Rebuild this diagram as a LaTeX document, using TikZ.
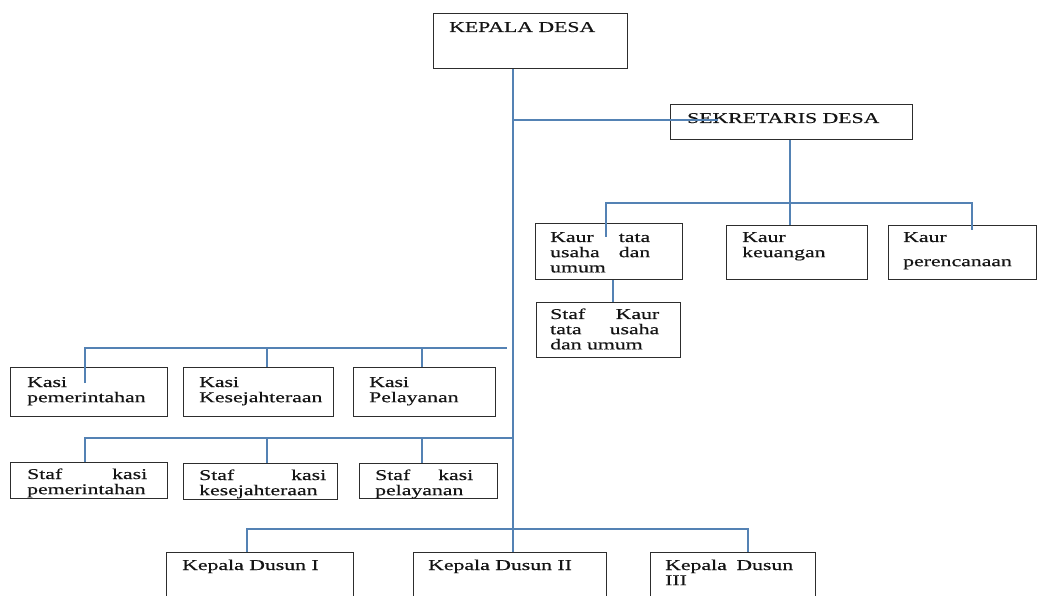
\documentclass[tikz,border=0pt]{standalone}
\usepackage{fontspec}
\setmainfont{Liberation Serif}[FakeStretch=1.45,FakeBold=0.4]
\definecolor{lnblue}{RGB}{84,130,180}
\definecolor{boxgray}{RGB}{45,45,45}
\newcommand\jl[2]{\makebox[#1][s]{#2}}
\tikzset{
  box/.style={draw=boxgray, line width=1.3pt, rectangle, inner sep=0pt, anchor=north west},
  conn/.style={draw=lnblue, line width=1.2pt},
  txt/.style={anchor=base west, inner sep=0pt, font=\fontsize{15}{15.2}\selectfont, text=black!92}
}
\begin{document}
\begin{tikzpicture}[x=1pt,y=-1pt]
\useasboundingbox[fill=white] (0,0) rectangle (1037,596);
% boxes
\node[box, minimum width=194pt, minimum height=55pt] (kd) at (433,13) {};
\node[box, minimum width=242pt, minimum height=35pt] (sek) at (670,104) {};
\node[box, minimum width=147pt, minimum height=56pt] (tata) at (535,223) {};
\node[box, minimum width=144pt, minimum height=55pt] (stafkaur) at (536,302) {};
\node[box, minimum width=141pt, minimum height=54pt] (keu) at (726,225) {};
\node[box, minimum width=148pt, minimum height=54pt] (ren) at (888,225) {};
\node[box, minimum width=157pt, minimum height=49pt] (kpem) at (10,367) {};
\node[box, minimum width=150pt, minimum height=49pt] (kkes) at (183,367) {};
\node[box, minimum width=142pt, minimum height=49pt] (kpel) at (353,367) {};
\node[box, minimum width=157pt, minimum height=36pt] (spem) at (10,462) {};
\node[box, minimum width=154pt, minimum height=36pt] (skes) at (183,463) {};
\node[box, minimum width=138pt, minimum height=35pt] (spel) at (359,463) {};
\node[box, minimum width=187pt, minimum height=60pt] (dus1) at (166,552) {};
\node[box, minimum width=193pt, minimum height=60pt] (dus2) at (413,552) {};
\node[box, minimum width=165pt, minimum height=60pt] (dus3) at (650,552) {};
% texts
\node[txt] (tkd) at (449,32) {KEPALA DESA};
\node[txt] (tsek) at (687,123) {SEKRETARIS DESA};
\node[txt] (ttata) at (550,242) {\vtop{\hbox{\jl{100pt}{Kaur tata}}\hbox{\jl{100pt}{usaha dan}}\hbox{umum}}};
\node[txt] (tsk) at (550,319) {\vtop{\hbox{\jl{109pt}{Staf Kaur}}\hbox{\jl{109pt}{tata usaha}}\hbox{dan umum}}};
\node[txt] (tkeu) at (742,242) {\vtop{\hbox{Kaur}\hbox{keuangan}}};
\node[txt] (tren) at (903,242) {\vtop{\hbox{Kaur}\vskip 9pt\hbox{perencanaan}}};
\node[txt] (tkpem) at (27,387) {\vtop{\hbox{Kasi}\hbox{pemerintahan}}};
\node[txt] (tkkes) at (199,387) {\vtop{\hbox{Kasi}\hbox{Kesejahteraan}}};
\node[txt] (tkpel) at (369,387) {\vtop{\hbox{Kasi}\hbox{Pelayanan}}};
\node[txt] (tspem) at (27,479) {\vtop{\hbox{\jl{120pt}{Staf kasi}}\hbox{pemerintahan}}};
\node[txt] (tskes) at (199,480) {\vtop{\hbox{\jl{127pt}{Staf kasi}}\hbox{kesejahteraan}}};
\node[txt] (tspel) at (375,480) {\vtop{\hbox{\jl{98pt}{Staf kasi}}\hbox{pelayanan}}};
\node[txt] (td1) at (182,570) {Kepala Dusun I};
\node[txt] (td2) at (428,570) {Kepala Dusun II};
\node[txt] (td3) at (665,570) {\vtop{\hbox{\jl{128pt}{Kepala Dusun}}\hbox{III}}};
% connector coordinates
\coordinate (mx) at (513,0);
\coordinate (sj) at (513,120);
\coordinate (sjend) at (718,120);
\coordinate (sx) at (790,0);
\coordinate (kl) at (606,203);
\coordinate (kld) at (606,237);
\coordinate (kr) at (972,203);
\coordinate (krd) at (972,230);
\coordinate (tx) at (613,0);
\coordinate (ka) at (85,348);
\coordinate (kad) at (85,383);
\coordinate (kb) at (267,348);
\coordinate (kc) at (422,348);
\coordinate (kend) at (507,348);
\coordinate (sa) at (85,438);
\coordinate (sb) at (267,438);
\coordinate (sc) at (422,438);
\coordinate (da) at (247,529);
\coordinate (db) at (748,529);
% connectors
\draw[conn] (kd.south -| mx) -- (dus2.north -| mx);
\draw[conn] (sj) -- (sjend);
\draw[conn] (sek.south -| sx) -- (keu.north -| sx);
\draw[conn] (kld) -- (kl) -- (kr) -- (krd);
\draw[conn] (tata.south -| tx) -- (stafkaur.north -| tx);
\draw[conn] (kad) -- (ka) -- (kend);
\draw[conn] (kb) -- (kkes.north -| kb);
\draw[conn] (kc) -- (kpel.north -| kc);
\draw[conn] (spem.north -| sa) -- (sa) -- (sa -| mx);
\draw[conn] (sb) -- (skes.north -| sb);
\draw[conn] (sc) -- (spel.north -| sc);
\draw[conn] (dus1.north -| da) -- (da) -- (db) -- (dus3.north -| db);
\end{tikzpicture}
\end{document}
